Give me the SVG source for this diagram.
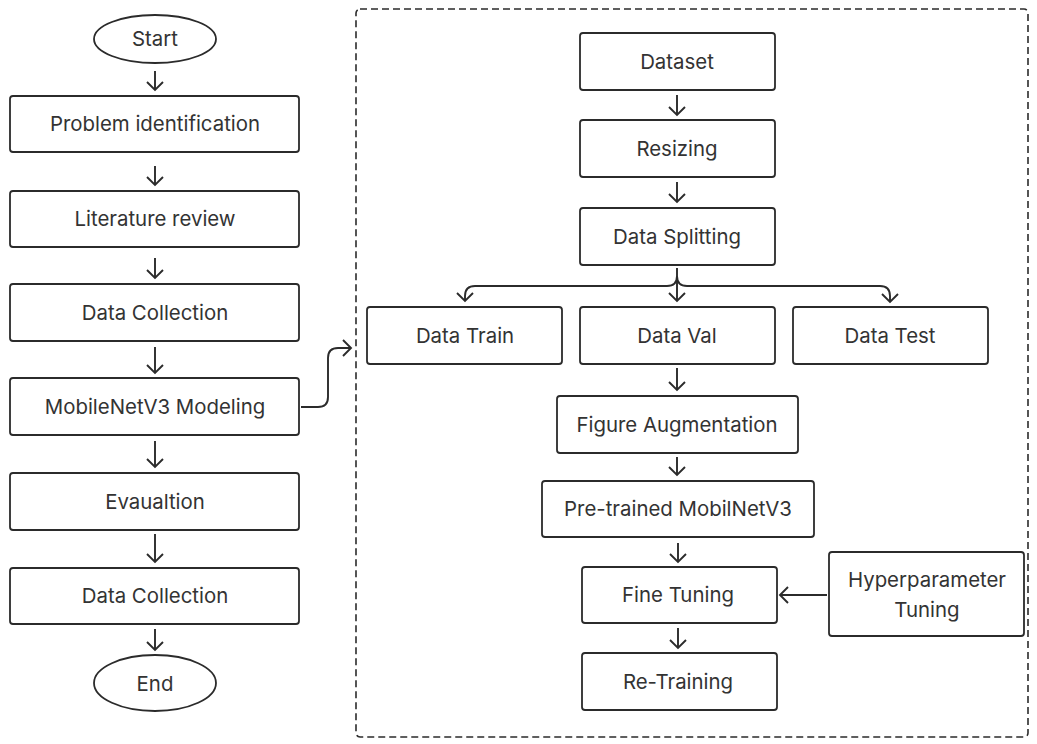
<svg xmlns="http://www.w3.org/2000/svg" width="1037" height="744" viewBox="0 0 1037 744">
  <defs>
    <style>
      .box { fill: #ffffff; stroke: #2b2b2b; stroke-width: 1.8; }
      .lbl { font-family: Inter, "Liberation Sans", sans-serif; font-size: 20.4px; fill: #333333; text-anchor: middle; }
      .wire { fill: none; stroke: #2b2b2b; stroke-width: 1.9; }
      .frame { fill: none; stroke: #2b2b2b; stroke-width: 1.6; stroke-dasharray: 7 4; }
    </style>
    <marker id="chev" viewBox="-9 -9 11 18" markerWidth="11" markerHeight="18" refX="0" refY="0" orient="auto" markerUnits="userSpaceOnUse">
      <path d="M -8 -8 L 0 0 L -8 8" fill="none" stroke="#2b2b2b" stroke-width="1.9" stroke-linejoin="miter"/>
    </marker>
  </defs>
  <rect width="1037" height="744" fill="#ffffff"/>

  <!-- sub-process frame -->
  <rect class="frame" x="356" y="9" width="672" height="728" rx="4"/>

  <!-- main flow -->
  <g id="start"><ellipse class="box" cx="155" cy="39" rx="61" ry="24"/><text class="lbl" x="155" y="46">Start</text></g>
  <g id="problem"><rect class="box" x="10" y="96" width="289" height="56" rx="3"/><text class="lbl" x="155" y="131">Problem identification</text></g>
  <g id="literature"><rect class="box" x="10" y="191" width="289" height="56" rx="3"/><text class="lbl" x="155" y="226">Literature review</text></g>
  <g id="collection1"><rect class="box" x="10" y="284" width="289" height="57" rx="3"/><text class="lbl" x="155" y="320">Data Collection</text></g>
  <g id="modeling"><rect class="box" x="10" y="378" width="289" height="57" rx="3"/><text class="lbl" x="155" y="414">MobileNetV3 Modeling</text></g>
  <g id="evaluation"><rect class="box" x="10" y="473" width="289" height="57" rx="3"/><text class="lbl" x="155" y="509">Evaualtion</text></g>
  <g id="collection2"><rect class="box" x="10" y="568" width="289" height="56" rx="3"/><text class="lbl" x="155" y="603">Data Collection</text></g>
  <g id="end"><ellipse class="box" cx="155" cy="683" rx="61" ry="28"/><text class="lbl" x="155" y="691">End</text></g>

  <!-- modeling detail -->
  <g id="dataset"><rect class="box" x="580" y="33" width="195" height="57" rx="3"/><text class="lbl" x="677" y="69">Dataset</text></g>
  <g id="resizing"><rect class="box" x="580" y="120" width="195" height="57" rx="3"/><text class="lbl" x="677" y="156">Resizing</text></g>
  <g id="splitting"><rect class="box" x="580" y="208" width="195" height="57" rx="3"/><text class="lbl" x="677" y="244">Data Splitting</text></g>
  <g id="train"><rect class="box" x="367" y="307" width="195" height="57" rx="3"/><text class="lbl" x="465" y="343">Data Train</text></g>
  <g id="val"><rect class="box" x="580" y="307" width="195" height="57" rx="3"/><text class="lbl" x="677" y="343">Data Val</text></g>
  <g id="test"><rect class="box" x="793" y="307" width="195" height="57" rx="3"/><text class="lbl" x="890" y="343">Data Test</text></g>
  <g id="augmentation"><rect class="box" x="557" y="396" width="241" height="57" rx="3"/><text class="lbl" x="677" y="432">Figure Augmentation</text></g>
  <g id="pretrained"><rect class="box" x="542" y="481" width="272" height="56" rx="3"/><text class="lbl" x="678" y="516">Pre-trained MobilNetV3</text></g>
  <g id="finetuning"><rect class="box" x="582" y="567" width="195" height="56" rx="3"/><text class="lbl" x="678" y="602">Fine Tuning</text></g>
  <g id="retraining"><rect class="box" x="582" y="653" width="195" height="57" rx="3"/><text class="lbl" x="678" y="689">Re-Training</text></g>
  <g id="hyperparameter"><rect class="box" x="829" y="552" width="195" height="84" rx="3"/><text class="lbl" x="927" y="587">Hyperparameter</text><text class="lbl" x="927" y="617">Tuning</text></g>

  <g id="connectors">
    <path class="wire" d="M155 71 V90" marker-end="url(#chev)"/>
    <path class="wire" d="M155 166 V185" marker-end="url(#chev)"/>
    <path class="wire" d="M155 258 V278" marker-end="url(#chev)"/>
    <path class="wire" d="M155 347 V373" marker-end="url(#chev)"/>
    <path class="wire" d="M155 441 V467" marker-end="url(#chev)"/>
    <path class="wire" d="M155 534 V562" marker-end="url(#chev)"/>
    <path class="wire" d="M155 629 V650" marker-end="url(#chev)"/>
    <path class="wire" d="M301 407 H318 Q328 407 328 397 V358 Q328 348 338 348 H351" marker-end="url(#chev)"/>

    <path class="wire" d="M677 95 V115" marker-end="url(#chev)"/>
    <path class="wire" d="M677 182 V202" marker-end="url(#chev)"/>
    <path class="wire" d="M677 268 V301" marker-end="url(#chev)"/>
    <path class="wire" d="M677 276 Q677 286 667 286 H475 Q465 286 465 296 V301" marker-end="url(#chev)"/>
    <path class="wire" d="M677 276 Q677 286 687 286 H880 Q890 286 890 296 V302" marker-end="url(#chev)"/>
    <path class="wire" d="M677 368 V390" marker-end="url(#chev)"/>
    <path class="wire" d="M677 457 V475" marker-end="url(#chev)"/>
    <path class="wire" d="M678 543 V562" marker-end="url(#chev)"/>
    <path class="wire" d="M678 628 V648" marker-end="url(#chev)"/>
    <path class="wire" d="M827 595 H780" marker-end="url(#chev)"/>
  </g>
</svg>
